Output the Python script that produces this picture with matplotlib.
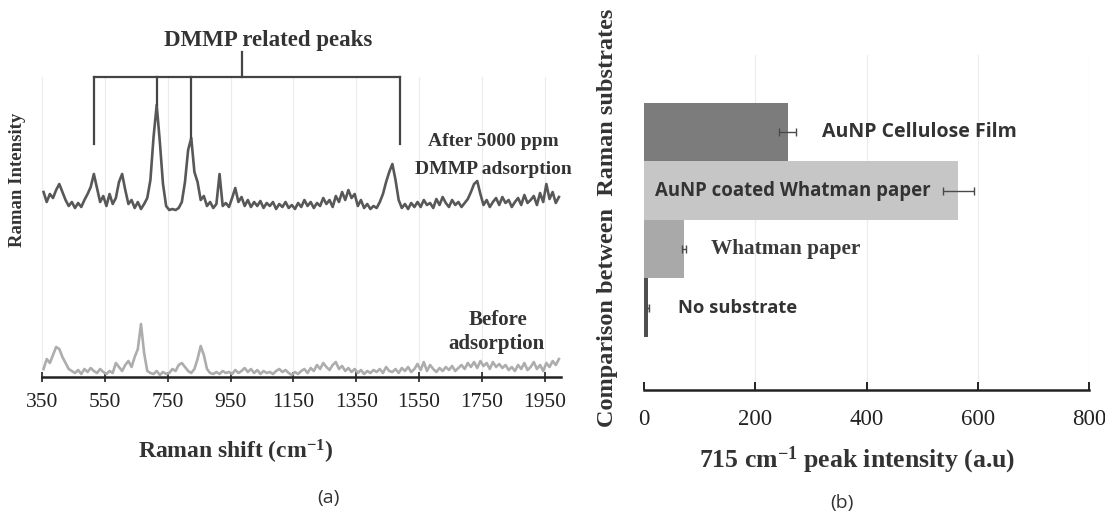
import numpy as np
import matplotlib.pyplot as plt

plt.rcParams['mathtext.fontset'] = 'custom'
plt.rcParams['mathtext.rm'] = 'Liberation Serif:bold'
plt.rcParams['mathtext.it'] = 'Liberation Serif:bold'
plt.rcParams['mathtext.bf'] = 'Liberation Serif:bold'

# --- (a) Raman spectra, 10 cm-1 steps from 355 to 1995 ---
shift = np.arange(355, 2000, 10)

after_dmmp = [
    20, 10, 18, 14, 22, 28, 20, 12, 6, 10,      # 355-445
    4, 9, 5, 12, 18, 25, 38, 24, 10, 16,        # 455-545
    6, 18, 8, 14, 30, 38, 22, 8, 12, 4,         # 555-645
    10, 3, 8, 14, 32, 75, 107, 70, 28, 6,       # 655-745
    2, 3, 2, 4, 10, 30, 62, 74, 40, 30,         # 755-845
    12, 16, 6, 10, 4, 8, 38, 6, 9, 5,           # 855-945
    14, 24, 10, 15, 6, 12, 5, 10, 6, 11,        # 955-1045
    4, 9, 6, 10, 3, 8, 5, 10, 4, 7,             # 1055-1145
    3, 9, 5, 12, 6, 10, 4, 9, 6, 14,            # 1155-1245
    8, 12, 5, 16, 10, 20, 12, 22, 14, 18,       # 1255-1345
    6, 12, 4, 8, 3, 6, 4, 10, 18, 30,           # 1355-1445
    40, 48, 32, 12, 4, 8, 3, 9, 5, 10,          # 1455-1545
    5, 12, 7, 9, 4, 13, 7, 15, 9, 5,            # 1555-1645
    12, 7, 10, 5, 9, 13, 20, 28, 31, 18,        # 1655-1745
    7, 12, 5, 10, 14, 7, 15, 9, 12, 5,          # 1755-1845
    10, 14, 7, 17, 9, 12, 16, 7, 19, 10,        # 1855-1945
    28, 13, 20, 9, 15,                          # 1955-1995
]

before_ads = [
    8, 18, 14, 22, 30, 28, 20, 14, 8, 6,        # 355-445
    4, 7, 3, 8, 5, 9, 6, 4, 8, 5,               # 455-545
    3, 6, 4, 14, 10, 6, 12, 16, 10, 20,         # 555-645
    28, 53, 24, 6, 4, 3, 6, 2, 5, 3,            # 655-745
    4, 8, 6, 12, 14, 10, 6, 4, 8, 18,           # 755-845
    31, 22, 8, 4, 3, 5, 3, 6, 4, 5,             # 855-945
    3, 7, 4, 6, 9, 5, 8, 4, 7, 3,               # 955-1045
    6, 4, 5, 3, 6, 8, 5, 7, 4, 2,               # 1055-1145
    5, 3, 6, 8, 4, 9, 6, 12, 8, 14,             # 1155-1245
    10, 7, 12, 15, 8, 11, 6, 9, 5, 8,           # 1255-1345
    4, 7, 3, 6, 4, 7, 5, 8, 4, 10,              # 1355-1445
    6, 5, 8, 4, 9, 6, 10, 5, 8, 13,             # 1455-1545
    7, 15, 6, 12, 8, 5, 9, 6, 10, 7,            # 1555-1645
    11, 6, 9, 12, 8, 14, 10, 15, 9, 16,         # 1655-1745
    11, 14, 8, 15, 10, 13, 9, 12, 7, 10,        # 1755-1845
    6, 12, 8, 14, 7, 10, 15, 8, 12, 6,          # 1855-1945
    14, 10, 16, 12, 18,                         # 1955-1995
]

after_offset = 165
xticks_a = [350, 550, 750, 950, 1150, 1350, 1550, 1750, 1950]

# DMMP bracket: outer legs, peak legs and stem
bracket_y = 300
bracket_outer = [515, 1490]
bracket_outer_bottom = 233
bracket_peaks = [715, 825]
bracket_stem = 986

# --- (b) 715 cm-1 peak intensity per substrate ---
substrates = ['No substrate', 'Whatman paper', 'AuNP coated Whatman paper', 'AuNP Cellulose Film']
peak_715 = [7, 72, 565, 258]
peak_err = [2, 4, 28, 15]
bar_colors = ['#4f4f4f', '#a9a9a9', '#c6c6c6', '#7c7c7c']
xticks_b = [0, 200, 400, 600, 800]

W, H = 1105, 513
fig = plt.figure(figsize=(W / 100, H / 100), dpi=100)

def px_axes(x0, y0, x1, y1):
    return fig.add_axes([x0 / W, 1 - y1 / H, (x1 - x0) / W, (y1 - y0) / H])

ink = '#333333'
serif = 'Liberation Serif'

# ---------- panel (a) ----------
ax = px_axes(42, 30, 560.5, 377)
ax.plot(shift, np.array(after_dmmp) + after_offset, color='#585858', lw=1.9)
ax.plot(shift, before_ads, color='#adadad', lw=1.9)
ax.set_xlim(350, 2000)
ax.set_ylim(0, 347)
ax.set_xticks(xticks_a)
ax.set_yticks([])
for s in ['left', 'right', 'top']:
    ax.spines[s].set_visible(False)
ax.spines['bottom'].set_color('#222222')
ax.spines['bottom'].set_linewidth(1.8)
ax.tick_params(axis='x', direction='inout', length=7, width=1.2, colors='#222222',
               labelsize=15.5, pad=8)
for lab in ax.get_xticklabels():
    lab.set_fontfamily(serif)
    lab.set_color('#222222')
for t in xticks_a:
    ax.plot([t, t], [0, 300], color='#ececec', lw=0.8, zorder=0)

# bracket over the DMMP peaks
peak_top = {p: after_dmmp[list(shift).index(p)] + after_offset for p in bracket_peaks}
ax.plot(bracket_outer, [bracket_y, bracket_y], color='#444444', lw=1.6)
for xb in bracket_outer:
    ax.plot([xb, xb], [bracket_outer_bottom, bracket_y], color='#444444', lw=1.6)
for p in bracket_peaks:
    ax.plot([p, p], [peak_top[p], bracket_y], color='#444444', lw=1.6)
ax.plot([bracket_stem, bracket_stem], [bracket_y, 325], color='#444444', lw=1.6)
ax.text(1069, 337, 'DMMP related peaks', ha='center', va='center', fontsize=16.5,
        fontweight='bold', family=serif, color=ink)

ax.text(1785, 236, 'After 5000 ppm', ha='center', va='center', fontsize=14,
        fontweight='bold', family=serif, color=ink, clip_on=False)
ax.text(1785, 207, 'DMMP adsorption', ha='center', va='center', fontsize=14,
        fontweight='bold', family=serif, color=ink, clip_on=False)
ax.text(1800, 57, 'Before', ha='center', va='center', fontsize=15,
        fontweight='bold', family=serif, color=ink)
ax.text(1797, 33, 'adsorption', ha='center', va='center', fontsize=15,
        fontweight='bold', family=serif, color=ink)

fig.text(18 / W, 1 - 180 / H, 'Raman Intensity', rotation=90, ha='center', va='center',
         fontsize=13.5, fontweight='bold', family=serif, color=ink)
fig.text(236 / W, 1 - 452 / H, r'Raman shift (cm$^{-1}$)', ha='center', va='center',
         fontsize=17, fontweight='bold', family=serif, color=ink)
fig.text(328 / W, 1 - 498 / H, '(a)', ha='center', va='center', fontsize=14,
         family='Open Sans', color='#333333')

# ---------- panel (b) ----------
bx = px_axes(644, 55, 1089, 390)
ypos = np.arange(len(substrates))
bx.barh(ypos, peak_715, height=1.0, color=bar_colors, zorder=2)
bx.errorbar(peak_715, ypos, xerr=peak_err, fmt='none', ecolor='#4a4a4a', elinewidth=1,
            capsize=3, capthick=1, zorder=3)
bx.set_xlim(0, 800)
bx.set_ylim(-1.41, 4.32)
bx.set_xticks(xticks_b)
bx.set_yticks([])
for s in ['left', 'right', 'top']:
    bx.spines[s].set_visible(False)
bx.spines['bottom'].set_color('#222222')
bx.spines['bottom'].set_linewidth(1.8)
bx.tick_params(axis='x', direction='in', length=6, width=1.4, colors='#222222',
               labelsize=16.5, pad=14)
for lab in bx.get_xticklabels():
    lab.set_fontfamily(serif)
    lab.set_color('#222222')
for t in xticks_b[1:]:
    bx.plot([t, t], [-1.41, 4.32], color='#ececec', lw=0.8, zorder=0)

sans = 'Open Sans'
bx.text(320, 3, 'AuNP Cellulose Film', va='center', fontsize=14, fontweight='bold',
        family=sans, color=ink, zorder=4)
bx.text(20, 2, 'AuNP coated Whatman paper', va='center', fontsize=13.4, fontweight='bold',
        family=sans, color=ink, zorder=4)
bx.text(120, 1, 'Whatman paper', va='center', fontsize=15.3, fontweight='bold',
        family=serif, color='#3a3a3a', zorder=4)
bx.text(61, 0, 'No substrate', va='center', fontsize=13.2, fontweight='bold',
        family=sans, color=ink, zorder=4)

fig.text(607 / W, 1 - 218 / H, 'Comparison between  Raman substrates', rotation=90,
         ha='center', va='center', fontsize=17.5, fontweight='bold', family=serif, color=ink)
fig.text(857 / W, 1 - 460 / H, r'715 cm$^{-1}$ peak intensity (a.u)', ha='center',
         va='center', fontsize=18.5, fontweight='bold', family=serif, color=ink)
fig.text(842 / W, 1 - 503 / H, '(b)', ha='center', va='center', fontsize=14,
         family='Open Sans', color='#333333')

fig.savefig('out.png', dpi=100)
